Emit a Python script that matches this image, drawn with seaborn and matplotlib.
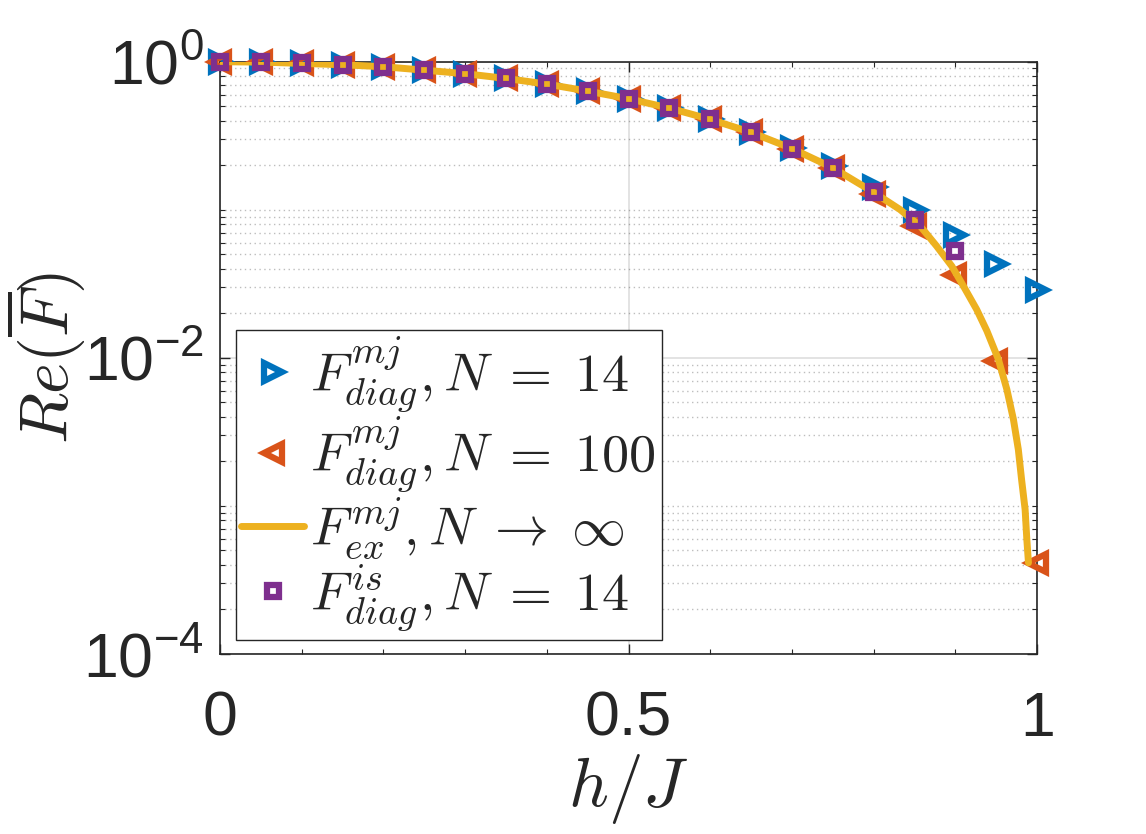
import numpy as np
import matplotlib
matplotlib.use("Agg")
import matplotlib.pyplot as plt
import matplotlib.ticker as mticker
import seaborn as sns

# h/J grid of the markers
h_grid = [0.0, 0.05, 0.1, 0.15, 0.2, 0.25, 0.3, 0.35, 0.4, 0.45, 0.5,
          0.55, 0.6, 0.65, 0.7, 0.75, 0.8, 0.85, 0.9, 0.95, 1.0]

# F_diag^mj, N = 14
f_mj_14 = [1.0, 0.994, 0.974, 0.954, 0.925, 0.877, 0.830, 0.771, 0.706, 0.633, 0.562,
           0.488, 0.411, 0.337, 0.262, 0.197, 0.1415, 0.099, 0.068, 0.0427, 0.0289]
# F_diag^mj, N = 100
f_mj_100 = [1.0, 0.994, 0.974, 0.954, 0.925, 0.877, 0.830, 0.771, 0.706, 0.633, 0.562,
            0.486, 0.408, 0.333, 0.259, 0.190, 0.128, 0.0775, 0.0365, 0.0095, 0.00041]
# F_diag^is, N = 14 (stops at 0.9)
h_is = [0.0, 0.05, 0.1, 0.15, 0.2, 0.25, 0.3, 0.35, 0.4, 0.45, 0.5,
        0.55, 0.6, 0.65, 0.7, 0.75, 0.8, 0.85, 0.9]
f_is_14 = [1.0, 0.994, 0.974, 0.954, 0.925, 0.877, 0.830, 0.771, 0.706, 0.633, 0.562,
           0.486, 0.408, 0.333, 0.259, 0.192, 0.131, 0.0851, 0.0525]
# exact curve, N -> infinity
h_ex = [0.0, 0.05, 0.1, 0.15, 0.2, 0.25, 0.3, 0.35, 0.4, 0.45, 0.5,
        0.55, 0.6, 0.65, 0.7, 0.75, 0.8, 0.832, 0.857, 0.877, 0.8956, 0.9098,
        0.926, 0.9385, 0.9526, 0.963, 0.971, 0.977, 0.981, 0.9853, 0.9874, 0.9894]
f_ex = [1.0, 0.994, 0.974, 0.954, 0.925, 0.877, 0.830, 0.771, 0.706, 0.633, 0.562,
        0.486, 0.408, 0.333, 0.259, 0.192, 0.131, 0.1005, 0.0775, 0.0568, 0.0416, 0.0305,
        0.0212, 0.0152, 0.00975, 0.0061, 0.00383, 0.0024, 0.0015, 0.000944, 0.000592,
        0.000412]

labels = [r"$F^{mj}_{diag}, N\;=\;14$", r"$F^{mj}_{diag}, N\;=\;100$",
          r"$F^{mj}_{ex}, N\;\rightarrow\;\infty$", r"$F^{is}_{diag}, N\;=\;14$"]
colors = ["#0072BD", "#D95319", "#EDB120", "#7E2F8E"]

sns.set_theme(style="ticks")
plt.rcParams["font.family"] = ["Liberation Sans", "DejaVu Sans"]
plt.rcParams["mathtext.fontset"] = "cm"

fig = plt.figure(figsize=(11.46, 8.34), dpi=100)
ax = fig.add_axes([0.192, 0.216, 0.713, 0.710])

MS = 13
MEW = 4.5
sns.lineplot(x=h_grid, y=f_mj_14, ax=ax, color=colors[0], marker=">", linestyle="none",
             markersize=MS, markeredgewidth=MEW, markerfacecolor="none",
             markeredgecolor=colors[0], label=labels[0], clip_on=False, zorder=3)
sns.lineplot(x=h_grid, y=f_mj_100, ax=ax, color=colors[1], marker="<", linestyle="none",
             markersize=MS, markeredgewidth=MEW, markerfacecolor="none",
             markeredgecolor=colors[1], label=labels[1], clip_on=False, zorder=4)
sns.lineplot(x=h_ex, y=f_ex, ax=ax, color=colors[2], linewidth=5, label=labels[2],
             zorder=5)
sns.lineplot(x=h_is, y=f_is_14, ax=ax, color=colors[3], marker="s", linestyle="none",
             markersize=9, markeredgewidth=4.5, markerfacecolor="none",
             markeredgecolor=colors[3], label=labels[3], clip_on=False, zorder=6)

ax.set_yscale("log")
ax.set_xlim(0, 1)
ax.set_ylim(1e-4, 1)
ax.set_xticks([0, 0.5, 1])
ax.set_xticklabels(["0", "0.5", "1"])
ax.xaxis.set_minor_locator(mticker.MultipleLocator(0.1))
ax.yaxis.set_major_locator(mticker.FixedLocator([1e-4, 1e-2, 1]))
ax.yaxis.set_minor_locator(mticker.LogLocator(base=10, subs=np.arange(1, 10), numticks=30))
ax.yaxis.set_minor_formatter(mticker.NullFormatter())

ax.grid(True, which="major", color="#262626", alpha=0.15, linewidth=1.2, linestyle="-")
ax.grid(True, which="minor", axis="y", color="#262626", alpha=0.3, linewidth=1.0,
        linestyle=(0, (1, 2.5)))
ax.set_axisbelow(True)

for s in ax.spines.values():
    s.set_color("#262626")
    s.set_linewidth(1.2)
ax.tick_params(which="both", direction="in", top=True, right=True, color="#262626")
ax.tick_params(which="major", length=7, width=1.0)
ax.tick_params(which="minor", length=3.5, width=0.8)
ax.tick_params(axis="x", which="major", labelsize=45, pad=26, labelcolor="#262626")
ax.tick_params(axis="y", which="major", labelsize=45, pad=12, labelcolor="#262626")

ax.set_xlabel(r"$h/J$", fontsize=50, labelpad=2)
ax.set_ylabel(r"$Re(\overline{F})$", fontsize=48)
ax.yaxis.set_label_coords(-0.162, 0.5)

leg = ax.legend(loc="lower left", bbox_to_anchor=(0.0196, 0.0236), borderaxespad=0,
                fontsize=39, frameon=True, fancybox=False, framealpha=1,
                edgecolor="#262626", handlelength=1.15, handletextpad=0.12,
                labelspacing=0.0, borderpad=0.1)
leg.get_frame().set_linewidth(1.0)

fig.savefig("out.png", dpi=100)
